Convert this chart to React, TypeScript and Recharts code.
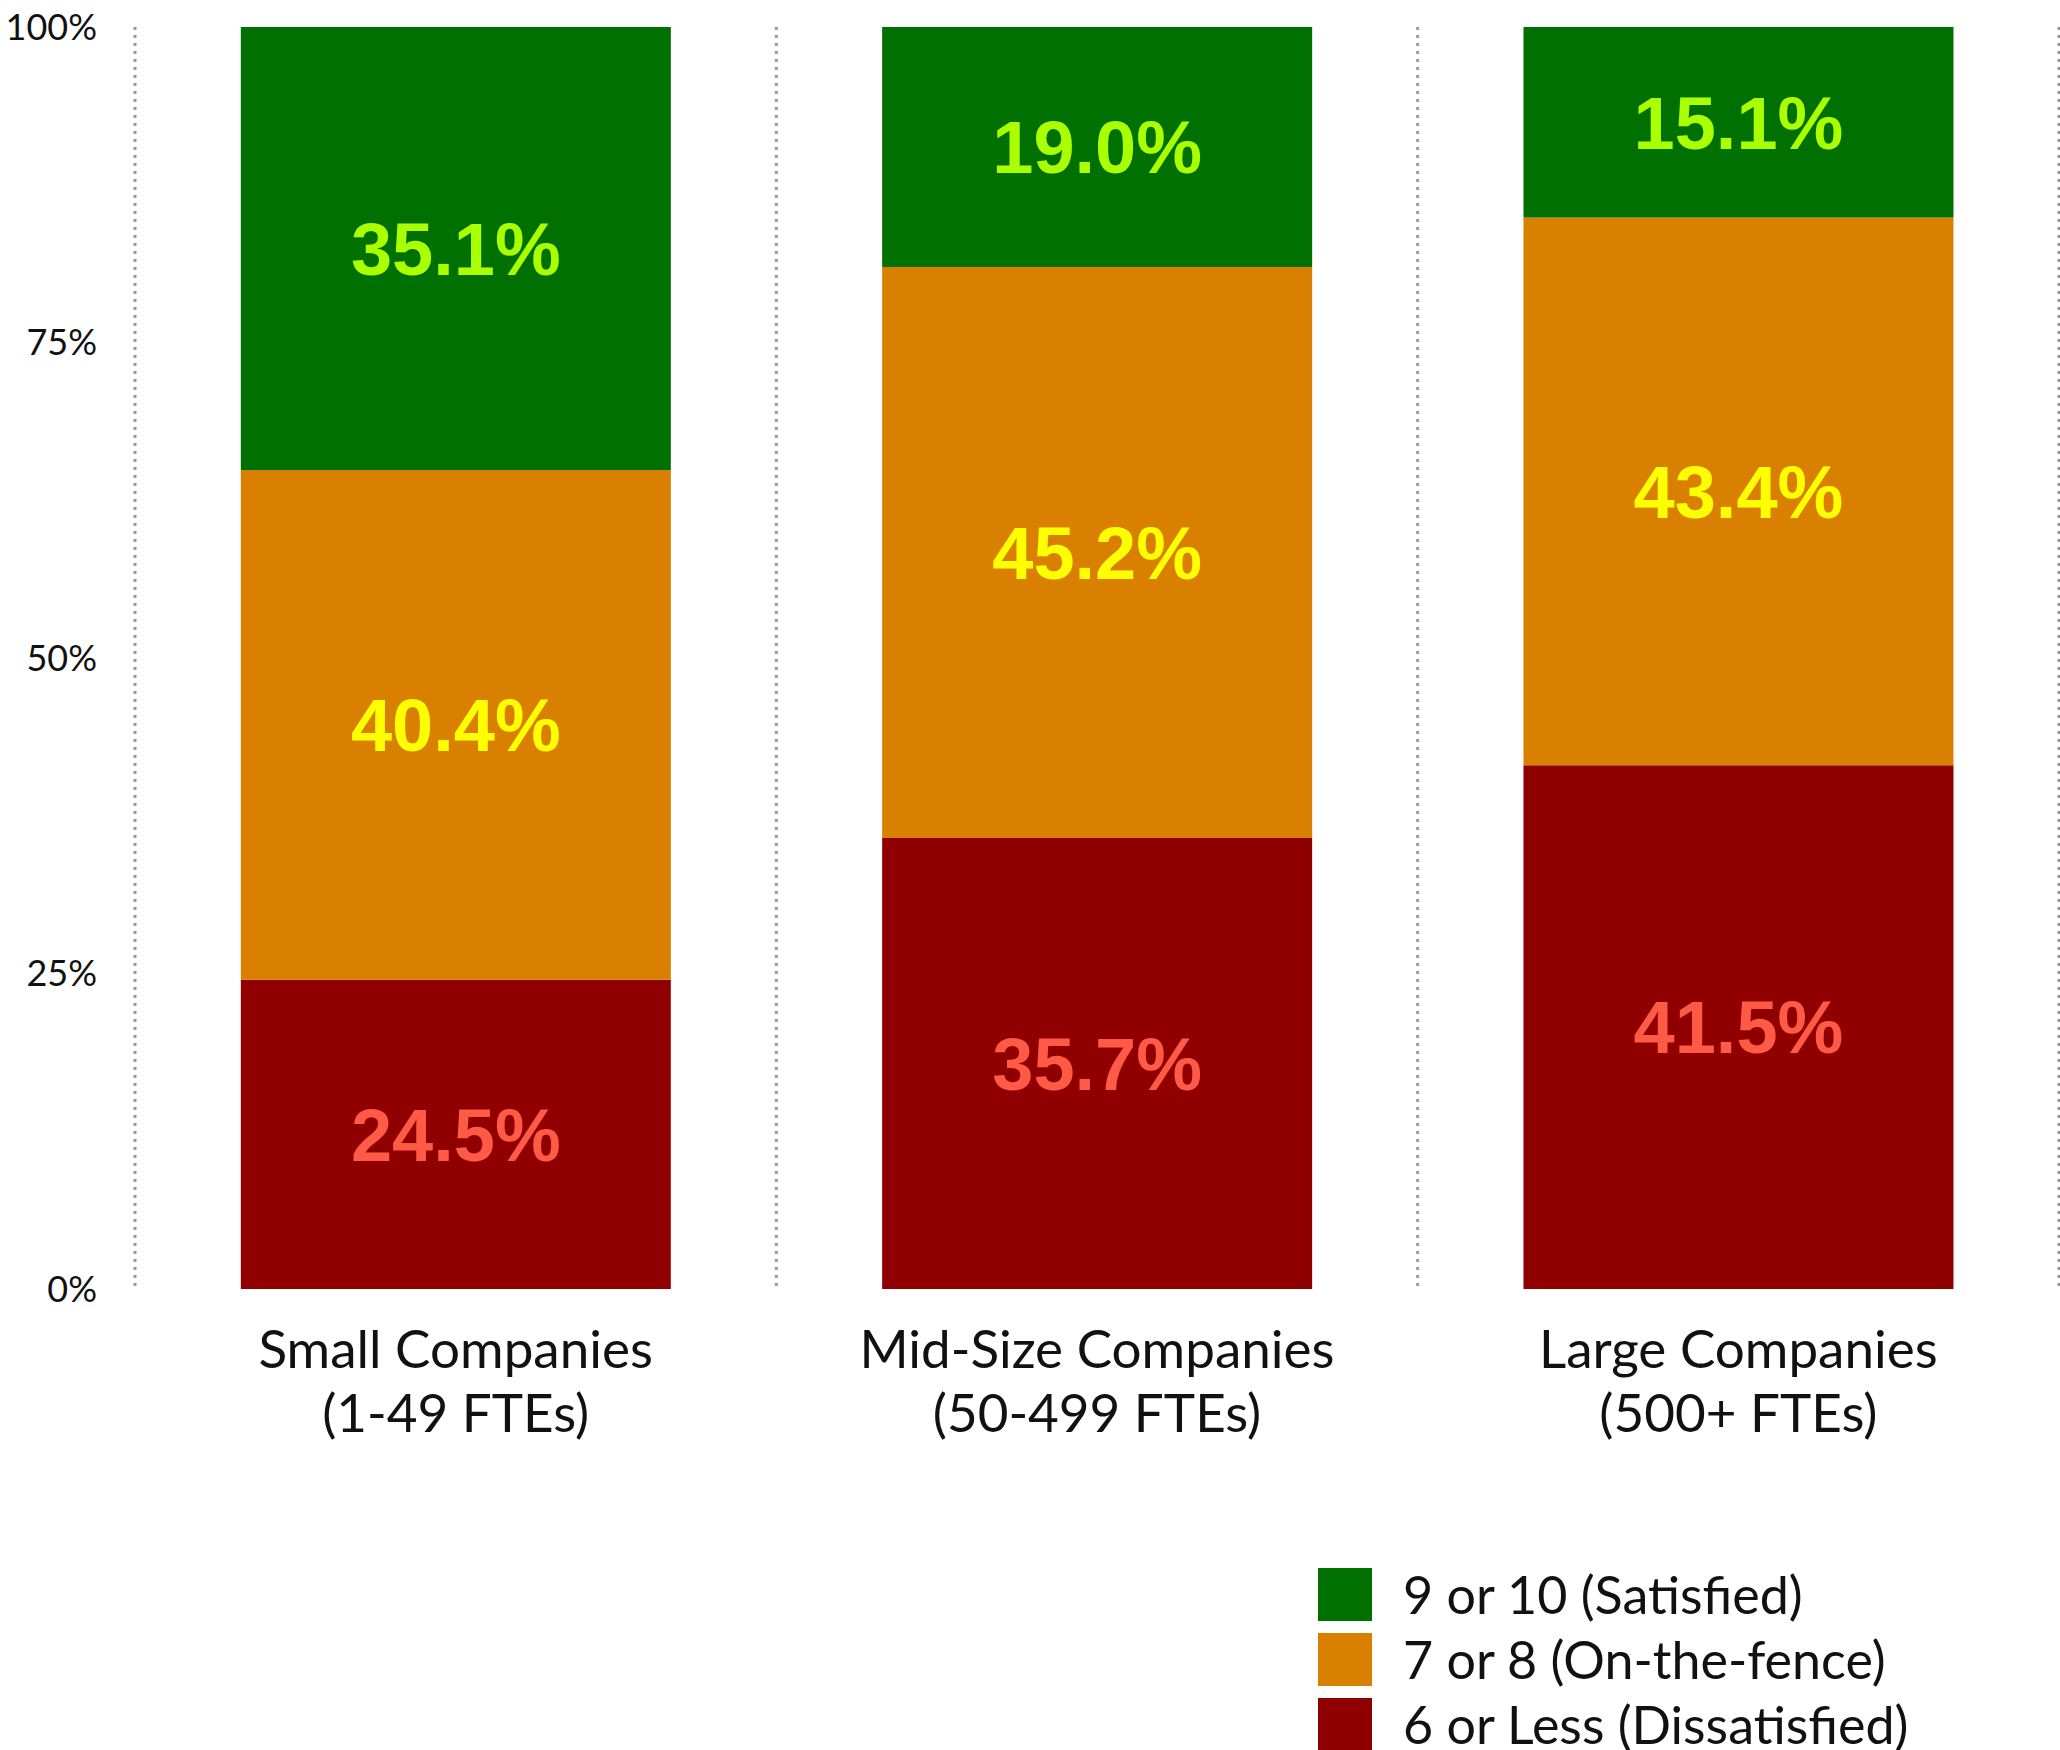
import React from 'react';
import { BarChart, Bar, XAxis, YAxis, CartesianGrid, Legend, LabelList } from 'recharts';

const companySizes = ['Small Companies', 'Mid-Size Companies', 'Large Companies'];
const fteRanges = ['(1-49 FTEs)', '(50-499 FTEs)', '(500+ FTEs)'];

const dissatisfied = [24.5, 35.7, 41.5];
const onTheFence = [40.4, 45.2, 43.4];
const satisfied = [35.1, 19.0, 15.1];

const yTicks = [0, 0.25, 0.5, 0.75, 1];

const seriesInfo = [
  { key: 'satisfied', name: '9 or 10 (Satisfied)', fill: '#007000', label: '#AAFF00' },
  { key: 'onTheFence', name: '7 or 8 (On-the-fence)', fill: '#D98000', label: '#FFFF00' },
  { key: 'dissatisfied', name: '6 or Less (Dissatisfied)', fill: '#900000', label: '#FF5A46' },
];

const data = companySizes.map((name, i) => ({
  name,
  range: fteRanges[i],
  dissatisfied: dissatisfied[i],
  onTheFence: onTheFence[i],
  satisfied: satisfied[i],
}));

const axisFont = 'Lato, "Noto Sans", sans-serif';

const CategoryTick = (props: any) => {
  const { x, y, payload, index } = props;
  return (
    <text x={x} y={y} textAnchor="middle" fontFamily={axisFont} fontSize={53} fill="#111">
      <tspan x={x} dy={79}>{payload.value}</tspan>
      <tspan x={x} dy={64}>{fteRanges[index]}</tspan>
    </text>
  );
};

const renderLegend = () => (
  <div style={{ fontFamily: axisFont, fontSize: 52, color: '#111' }}>
    {seriesInfo.map((s) => (
      <div key={s.key} style={{ display: 'flex', alignItems: 'center', height: 65 }}>
        <div style={{ width: 54, height: 53, background: s.fill, marginRight: 31 }} />
        <span style={{ lineHeight: '53px' }}>{s.name}</span>
      </div>
    ))}
  </div>
);

const boundaryLines = ({ offset }: any) => {
  const n = data.length;
  const out: number[] = [];
  for (let i = 0; i <= n; i++) out.push(offset.left + (offset.width * i) / n);
  return out;
};

const App: React.FC = () => {
  const stackOrder = [...seriesInfo].reverse();
  return (
    <div style={{ position: 'absolute', left: 0, top: 0, width: 2060, height: 1750, background: '#fff' }}>
      <BarChart
        width={2060}
        height={1750}
        data={data}
        stackOffset="expand"
        barCategoryGap="16.5%"
        margin={{ top: 27, right: 1, left: 0, bottom: 301 }}
      >
        <CartesianGrid
          horizontal={false}
          stroke="#999"
          strokeWidth={3}
          strokeDasharray="3 5"
          verticalCoordinatesGenerator={boundaryLines}
        />
        <XAxis
          dataKey="name"
          axisLine={false}
          tickLine={false}
          tickSize={0}
          tickMargin={0}
          height={160}
          interval={0}
          tick={<CategoryTick />}
        />
        <YAxis
          width={135}
          ticks={yTicks}
          domain={[0, 1]}
          axisLine={false}
          tickLine={false}
          tickSize={0}
          tickMargin={38}
          tickFormatter={(v: number) => `${Math.round(v * 100)}%`}
          tick={{ fontFamily: axisFont, fontSize: 36, fill: '#111' }}
        />
        <Legend
          layout="horizontal"
          verticalAlign="middle"
          align="center"
          content={renderLegend}
          wrapperStyle={{ left: 1318, top: 1562, width: 742, height: 190 }}
        />
        {stackOrder.map((s) => (
          <Bar
            key={s.key}
            dataKey={s.key}
            name={s.name}
            stackId="a"
            fill={s.fill}
            isAnimationActive={false}
          >
            <LabelList
              dataKey={s.key}
              position="center"
              formatter={(v: any) => `${Number(v).toFixed(1)}%`}
              fill={s.label}
              fontFamily='"Liberation Sans", Arial, sans-serif'
              fontWeight="bold"
              fontSize={74}
            />
          </Bar>
        ))}
      </BarChart>
    </div>
  );
};

export default App;
